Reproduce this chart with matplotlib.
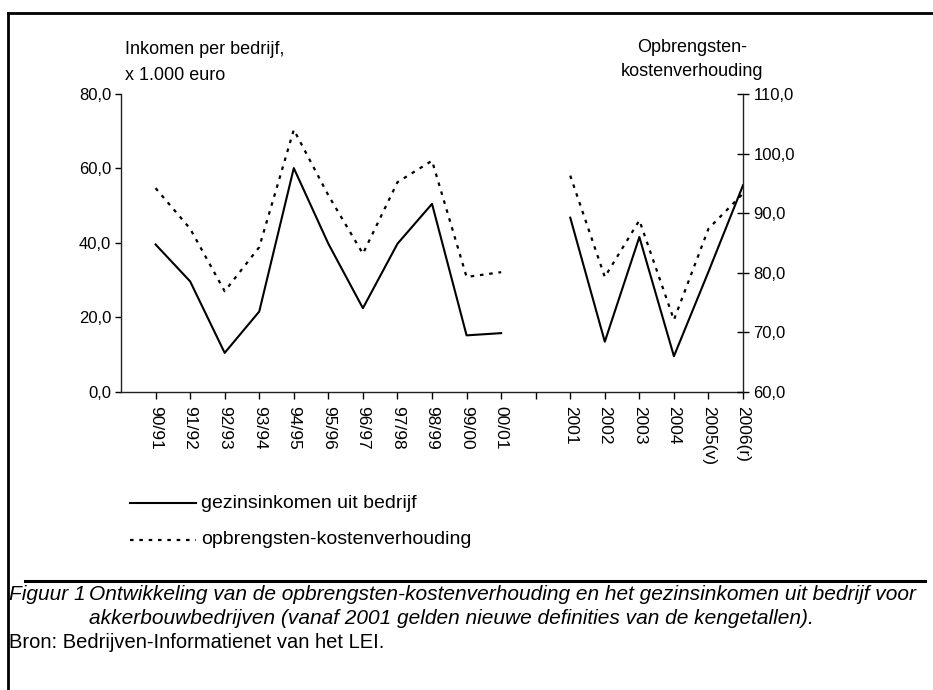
import matplotlib.pyplot as plt
import numpy as np
from matplotlib.ticker import FuncFormatter, FixedLocator
from matplotlib.lines import Line2D

plt.rcParams['font.family'] = ['Liberation Sans', 'DejaVu Sans']

# data; the empty slot is the break between the old and new definitions
jaren = ['90/91', '91/92', '92/93', '93/94', '94/95', '95/96', '96/97', '97/98',
         '98/99', '99/00', '00/01', '', '2001', '2002', '2003', '2004', '2005(v)', '2006(r)']
gezinsinkomen = [39.6, 29.7, 10.5, 21.6, 60.1, 39.8, 22.5, 39.8, 50.5, 15.2, 15.8,
                 np.nan, 46.8, 13.5, 41.6, 9.6, 32.3, 55.5]
opk_verhouding = [94.2, 87.4, 76.9, 84.3, 104.0, 93.0, 83.2, 95.2, 98.8, 79.3, 80.1,
                  np.nan, 96.3, 79.3, 88.8, 72.1, 87.4, 93.3]

x = np.arange(1, len(jaren) + 1)
komma = FuncFormatter(lambda v, p: f"{v:.1f}".replace('.', ','))
stip = (0, (1.6, 2.6))

fig = plt.figure(figsize=(9.33, 6.9), dpi=100)
ax = fig.add_axes([0.1297, 0.4319, 0.6667, 0.4319])
ax2 = ax.twinx()

ax.plot(x, gezinsinkomen, color='black', lw=1.5)
ax2.plot(x, opk_verhouding, color='black', lw=1.6, linestyle=stip)

ax.set_xlim(0, len(jaren))
ax.set_ylim(0, 80)
ax2.set_ylim(60, 110)
ax.yaxis.set_major_locator(FixedLocator([0, 20, 40, 60, 80]))
ax2.yaxis.set_major_locator(FixedLocator([60, 70, 80, 90, 100, 110]))
ax.yaxis.set_major_formatter(komma)
ax2.yaxis.set_major_formatter(komma)
ax.set_xticks(x)
ax.set_xticklabels(jaren, rotation=270, fontsize=12.5)

for a in (ax, ax2):
    a.spines['top'].set_visible(False)
    for s in a.spines.values():
        s.set_linewidth(1.0)
        s.set_color('#222222')
ax.spines['right'].set_visible(False)
ax2.spines['left'].set_visible(False)
ax2.spines['bottom'].set_visible(False)
ax.tick_params(axis='y', direction='out', length=4, labelsize=12, pad=3, width=1)
ax.tick_params(axis='x', direction='out', length=5, labelsize=12.5, pad=5, width=1)
ax2.tick_params(axis='y', direction='inout', length=9, labelsize=12, pad=3, width=1)

# axis titles
fig.text(125 / 933, 1 - 50 / 690, 'Inkomen per bedrijf,', fontsize=13, va='center')
fig.text(125 / 933, 1 - 76 / 690, 'x 1.000 euro', fontsize=13, va='center')
fig.text(692 / 933, 1 - 48 / 690, 'Opbrengsten-', fontsize=13, va='center', ha='center')
fig.text(692 / 933, 1 - 72 / 690, 'kostenverhouding', fontsize=13, va='center', ha='center')

# legend drawn by hand below the chart
fig.add_artist(Line2D([130 / 933, 196 / 933], [1 - 503 / 690] * 2, color='black', lw=1.5))
fig.add_artist(Line2D([130 / 933, 196 / 933], [1 - 540 / 690] * 2, color='black', lw=1.6,
                      linestyle=stip))
fig.text(201 / 933, 1 - 503 / 690, 'gezinsinkomen uit bedrijf', fontsize=14, va='center')
fig.text(201 / 933, 1 - 540 / 690, 'opbrengsten-kostenverhouding', fontsize=14, va='center')

# frame and caption rule
fig.add_artist(Line2D([8 / 933, 8 / 933], [0, 1 - 13 / 690], color='black', lw=2))
fig.add_artist(Line2D([8 / 933, 1.0], [1 - 13 / 690] * 2, color='black', lw=2))
fig.add_artist(Line2D([25 / 933, 925 / 933], [1 - 581 / 690] * 2, color='black', lw=2.2))

fig.text(9 / 933, 1 - 594 / 690, 'Figuur 1', fontsize=15, style='italic', va='center')
fig.text(89 / 933, 1 - 594 / 690,
         'Ontwikkeling van de opbrengsten-kostenverhouding en het gezinsinkomen uit bedrijf voor',
         fontsize=15, style='italic', va='center')
fig.text(89 / 933, 1 - 618 / 690,
         'akkerbouwbedrijven (vanaf 2001 gelden nieuwe definities van de kengetallen).',
         fontsize=15, style='italic', va='center')
fig.text(9 / 933, 1 - 642 / 690, 'Bron: Bedrijven-Informatienet van het LEI.',
         fontsize=14.5, va='center')

fig.savefig('out.png', dpi=100)
